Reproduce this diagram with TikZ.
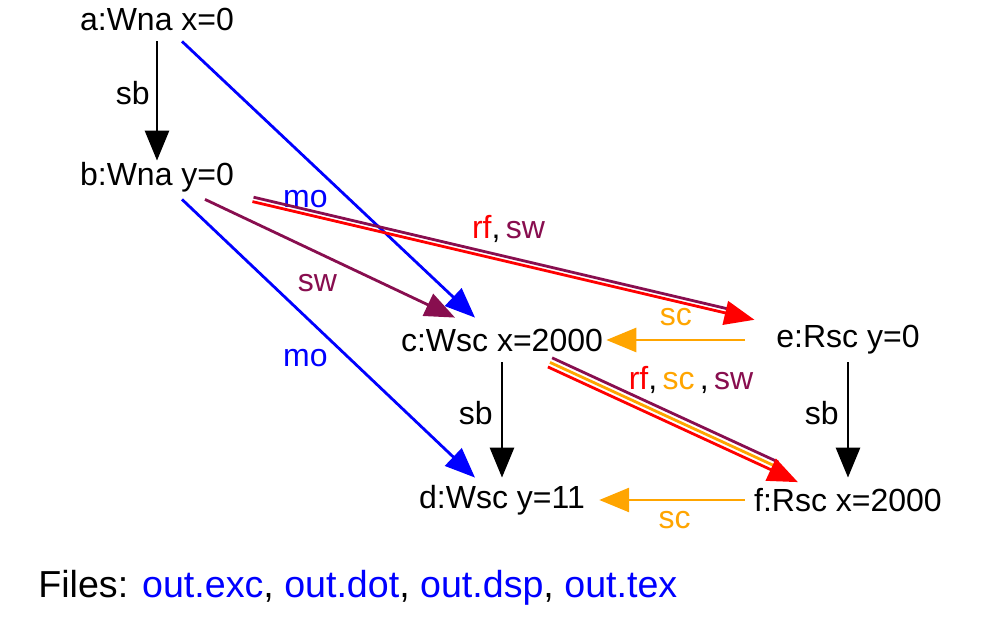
\documentclass[tikz,border=0pt]{standalone}
\usepackage{fontspec}
\setmainfont{Liberation Sans}
\usetikzlibrary{arrows.meta}
\definecolor{swcol}{RGB}{136,14,79}
\definecolor{sccol}{RGB}{255,165,0}
\tikzset{
  evt/.style={inner sep=0pt, minimum height=22pt, font=\fontsize{16}{19}\selectfont},
  lbl/.style={inner sep=0pt, font=\fontsize{16}{19}\selectfont},
  rel/.style={line width=1.4pt, -{Triangle[length=15pt,width=12pt]}},
  nohead/.style={line width=1.4pt, shorten >=13pt},
}
\begin{document}
\begin{tikzpicture}[x=0.5pt,y=-0.5pt]
\useasboundingbox (0,0) rectangle (998,619);
% events
\node[evt] (a) at (157,19) {a:Wna x=0};
\node[evt] (b) at (157,177) {b:Wna y=0};
\node[evt] (c) at (502,340) {c:Wsc x=2000};
\node[evt] (d) at (502,500) {d:Wsc y=11};
\node[evt] (e) at (848,340) {e:Rsc y=0};
\node[evt] (f) at (848,500) {f:Rsc x=2000};

% sb
\draw[rel] (a.south) -- ([yshift=-3pt]b.north) node[lbl,pos=0.43,left=3pt] {sb};
\draw[rel] (c.south) -- (d.north) node[lbl,pos=0.44,left=4pt] {sb};
\draw[rel] (e.south) -- (f.north) node[lbl,pos=0.44,left=4pt] {sb};

% mo
\draw[rel, blue] ([xshift=12.5pt]a.south) -- ([xshift=-13.5pt]c.north) node[lbl,pos=0.57,left=10pt] {mo};
\draw[rel, blue] ([xshift=12.5pt]b.south) -- ([xshift=-13.5pt]d.north) node[lbl,pos=0.57,left=10pt] {mo};

% sw
\draw[rel, swcol] ([xshift=24pt]b.south) -- ([xshift=-23.5pt]c.north) node[lbl,pos=0.45,yshift=-15pt] {sw};

% sc
\draw[rel, sccol, shorten <=15.5pt, shorten >=1.5pt] (e.west) -- (c.east) node[lbl,pos=0.58,yshift=11.5pt] {sc};
\draw[rel, sccol, shorten <=4.5pt, shorten >=7pt] (f.west) -- (d.east) node[lbl,pos=0.47,yshift=-10pt] {sc};

% rf, sw
\draw[nohead, swcol, transform canvas={shift={(0.27pt,1.1pt)}}] ([xshift=48pt]b.south) -- ([xshift=-10.5pt]e.north west);
\draw[rel, red, transform canvas={shift={(-0.27pt,-1.1pt)}}] ([xshift=48pt]b.south) -- ([xshift=-10.5pt]e.north west)
  node[lbl,text=black,pos=0.51,yshift=16.5pt] {\textcolor{red}{rf},\,\textcolor{swcol}{sw}};

% rf, sc, sw
\draw[nohead, swcol, transform canvas={shift={(1.05pt,2.27pt)}}] ([xshift=24pt]c.south) -- ([xshift=-24pt]f.north);
\draw[nohead, sccol] ([xshift=24pt]c.south) -- ([xshift=-24pt]f.north)
  node[lbl,text=black,pos=0.564,yshift=23.5pt] {\textcolor{red}{rf},\,\textcolor{sccol}{sc}\,,\,\textcolor{swcol}{sw}};
\draw[rel, red, transform canvas={shift={(-1.05pt,-2.27pt)}}] ([xshift=24pt]c.south) -- ([xshift=-24pt]f.north);

\node[anchor=west, inner sep=0pt, font=\fontsize{18.8}{23}\selectfont] (files) at (38,588)
  {Files: \textcolor{blue}{out.exc}, \textcolor{blue}{out.dot}, \textcolor{blue}{out.dsp}, \textcolor{blue}{out.tex}};
\end{tikzpicture}
\end{document}
